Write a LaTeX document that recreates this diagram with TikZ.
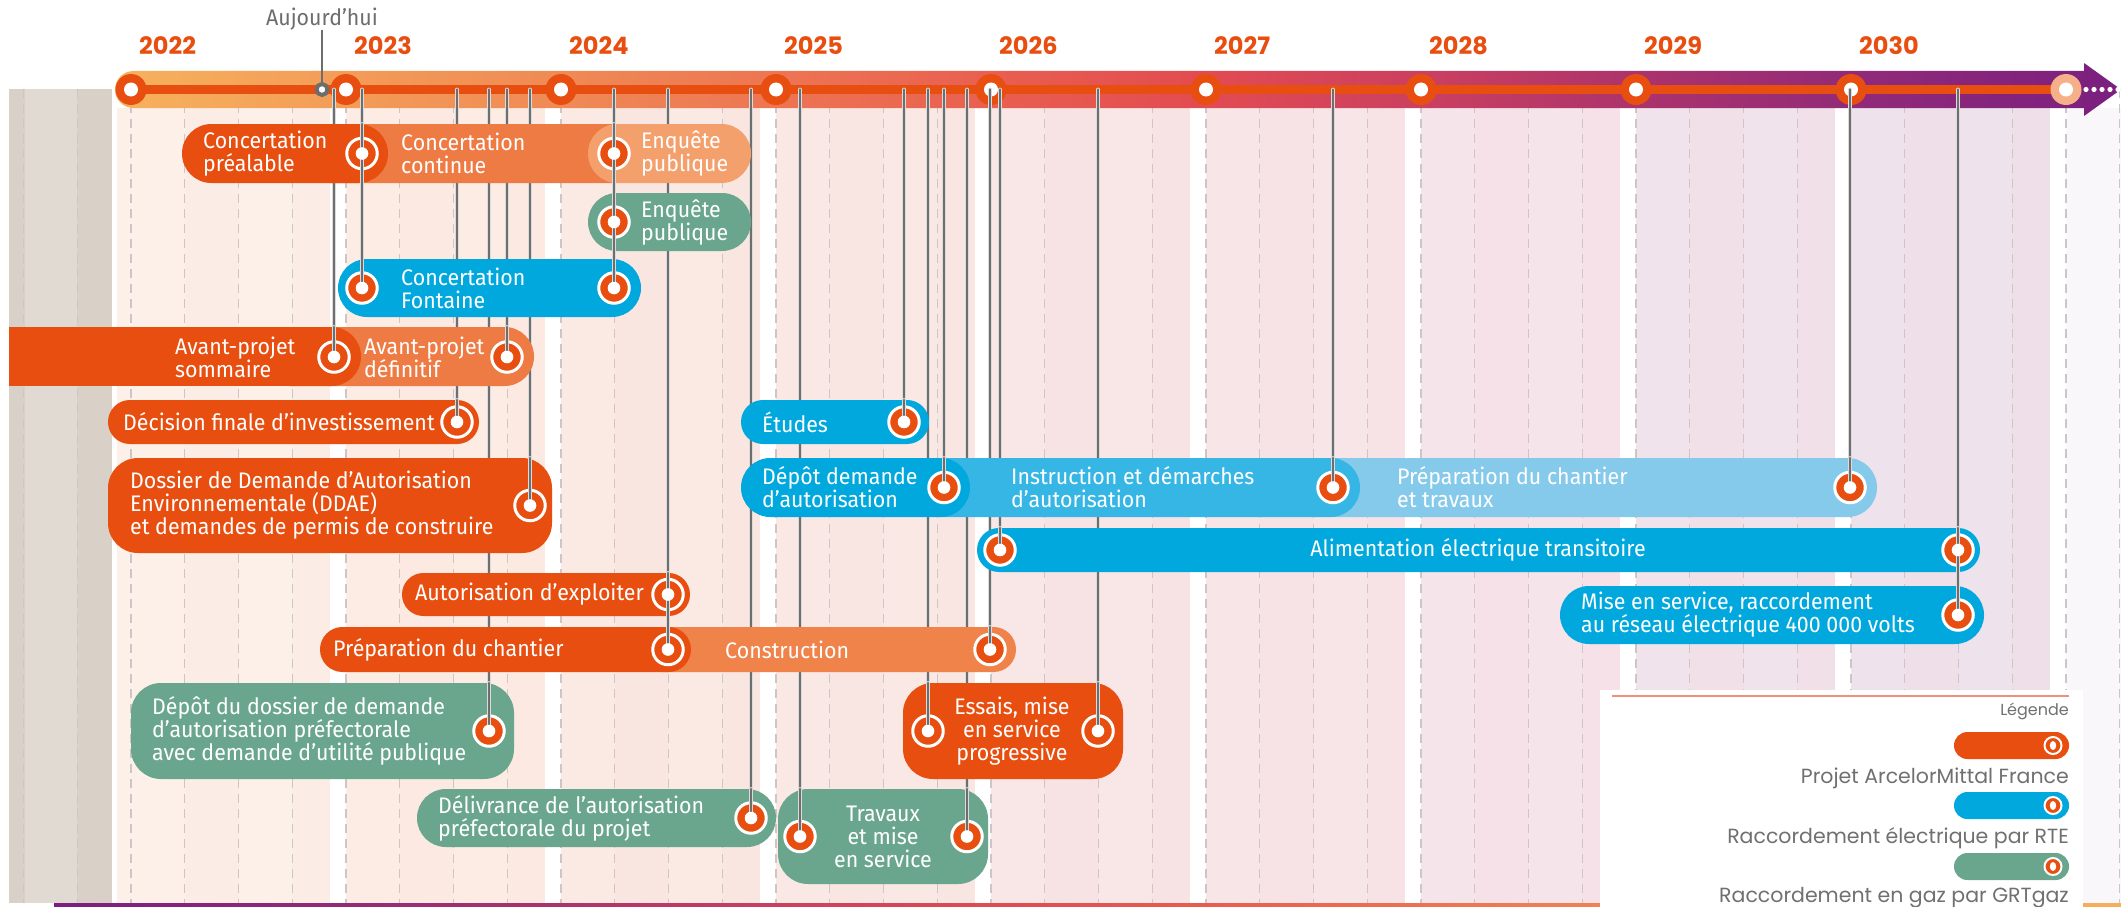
\documentclass[tikz,border=0pt]{standalone}
\usepackage{fontspec}
\setmainfont{Fira Sans}[FakeStretch=0.95]
\newfontfamily\legfont{Poppins}
\newfontfamily\yrfont{Poppins}
\usetikzlibrary{calc}

\definecolor{amo}{HTML}{E84E0F}
\definecolor{amomid}{HTML}{EE7A44}
\definecolor{amolight}{HTML}{F4A06C}
\definecolor{constr}{HTML}{F08349}
\definecolor{rte}{HTML}{00A8DE}
\definecolor{rtemid}{HTML}{36B6E4}
\definecolor{rtelight}{HTML}{86CAEB}
\definecolor{grt}{HTML}{6AA68E}
\definecolor{stemgrey}{HTML}{6E6E6E}
\definecolor{agrey}{HTML}{6D6D6D}
\definecolor{dashgrey}{HTML}{CCC6C6}
\definecolor{peach}{HTML}{F5B08A}
\definecolor{greyA}{HTML}{D9D1C8}
\definecolor{greyB}{HTML}{E1DAD3}
\definecolor{leggrey}{HTML}{707070}
\definecolor{legline}{HTML}{F0907A}
\definecolor{bandtint}{HTML}{E8A0A8}
\definecolor{colA}{HTML}{FCF0E8}
\definecolor{colB}{HTML}{FCECE4}
\definecolor{colC}{HTML}{FBE9E3}
\definecolor{colD}{HTML}{FAE8E5}
\definecolor{colE}{HTML}{F9E6E7}
\definecolor{colF}{HTML}{F8E5E8}
\definecolor{colG}{HTML}{F5E4E9}
\definecolor{colH}{HTML}{F1E3EB}
\definecolor{colI}{HTML}{EEE2EC}
\definecolor{colJ}{HTML}{F9F7FA}
\definecolor{b0}{HTML}{F6B05C}
\definecolor{b1}{HTML}{F39C58}
\definecolor{b2}{HTML}{EF8A55}
\definecolor{b3}{HTML}{ED7553}
\definecolor{b4}{HTML}{E95F50}
\definecolor{b5}{HTML}{E24B51}
\definecolor{b6}{HTML}{CB4060}
\definecolor{b7}{HTML}{AC336C}
\definecolor{b8}{HTML}{922A78}
\definecolor{b9}{HTML}{7A1F80}

\pgfdeclarehorizontalshading{barshade}{100bp}{color(0bp)=(b0); color(25bp)=(b0); color(30.35bp)=(b1); color(35.75bp)=(b2); color(41.16bp)=(b3); color(46.55bp)=(b4); color(51.98bp)=(b5); color(57.36bp)=(b6); color(62.77bp)=(b7); color(68.18bp)=(b8); color(75bp)=(b9); color(100bp)=(b9)}

\newcommand\lblfont{\fontsize{22.5pt}{23pt}\selectfont}
\newcommand\yrlabel{\yrfont\bfseries\fontsize{24pt}{24pt}\selectfont}
\newcommand\aujfont{\fontsize{22.5pt}{22.5pt}\selectfont}
\newcommand\legtext{\legfont\fontsize{20.5pt}{20.5pt}\selectfont}
\newcommand\legsmall{\legfont\fontsize{16pt}{16pt}\selectfont}

\begin{document}
\begin{tikzpicture}[x=1pt,y=-1pt,
  stem/.style={draw=white!75!stemgrey, line width=0.7pt, double=stemgrey, double distance=2.4pt, line cap=round},
  ms/.style={circle, fill=amo, draw=white, line width=3pt, minimum size=30.5pt, inner sep=0pt},
  legms/.style={circle, fill=amo, draw=white, line width=2pt, minimum size=17pt, inner sep=0pt},
  lbl/.style={text=white, font=\lblfont, align=left, inner sep=0pt, anchor=west},
  clbl/.style={text=white, font=\lblfont, align=center, inner sep=0pt, anchor=center},
  yr/.style={text=amo, font=\yrlabel, inner sep=0pt, anchor=west},
  leg/.style={text=leggrey, font=\legtext, inner sep=0pt, anchor=east},
  legpill/.style={rounded corners=13.4pt},
]
\useasboundingbox (0,0) rectangle (2121,907);
\clip (0,0) rectangle (2121,907);
\fill[white] (0,0) rectangle (2121,907);

% grey zone before 2022
\fill[greyA] (9,89) rectangle (112,903);
\fill[greyB] (25,89) rectangle (77,903);

% year columns
\foreach \i/\cc in {0/colA,1/colB,2/colC,3/colD,4/colE,5/colF,6/colG,7/colH,8/colI}{
  \fill[\cc] (117+215*\i,108) rectangle (331+215*\i,903);
  \fill[\cc!96!bandtint] (184.75+215*\i,108) rectangle (238.5+215*\i,903);
  \fill[\cc!96!bandtint] (292.25+215*\i,108) rectangle (331+215*\i,903);
}
\fill[colJ] (2066,108) rectangle (2121,903);
\foreach \i in {1,...,9} \fill[white] (115+215*\i,108) rectangle (131+215*\i,903);

% quarter dashed lines
\foreach \k in {-2,...,37}
  \draw[dashgrey, line width=1.4pt, dash pattern=on 9pt off 6pt] (131+53.75*\k,89) -- (131+53.75*\k,903);

% bottom gradient line
\shade[shading=barshade, shading angle=180] (54,903.5) rectangle (2121,906.5);

% time axis bar
\fill[b0] (133.5,89.5) circle[radius=18.5pt];
\shade[shading=barshade] (133.5,71) -- (2084,71) -- (2084,63) -- (2121,89.5) -- (2084,116) -- (2084,108) -- (133.5,108) -- cycle;
\draw[amo, line width=8pt] (131,89.5) -- (2066,89.5);
\foreach \i in {0,...,8}{
  \fill[amo] (131+215*\i,89.5) circle[radius=15.5pt];
  \fill[white] (131+215*\i,89.5) circle[radius=7pt];
  \node[yr] (Y\i) at (139+215*\i,46) {\number\numexpr2022+\i\relax};
}
\fill[peach] (2066,89.5) circle[radius=15.5pt];
\fill[white] (2066,89.5) circle[radius=7pt];
\foreach \d in {2086,2094,2102,2110,2118} \fill[white] (\d,89.5) circle[radius=2.6pt];

% today marker
\node[font=\aujfont, text=agrey, inner sep=0pt] (auj) at (322,19) {Aujourd'hui};
\node[circle, draw=agrey, line width=4pt, fill=white, minimum size=11pt, inner sep=0pt] (today) at (322,89.5) {};
\draw[agrey, line width=2.5pt] (auj.south) -- (today.north);

% milestone positions
\coordinate (M-pre) at (362,153.5);
\coordinate (M-enqO) at (614,153.5);
\coordinate (M-enqG) at (614,222);
\coordinate (M-fonL) at (362,288);
\coordinate (M-fonR) at (614,288);
\coordinate (M-aps) at (334,357);
\coordinate (M-apd) at (507,357);
\coordinate (M-dfi) at (457,422);
\coordinate (M-dda) at (530,505.5);
\coordinate (M-aut) at (668,594.5);
\coordinate (M-prep) at (668,649.5);
\coordinate (M-depd) at (489,731);
\coordinate (M-deli) at (751,818);
\coordinate (M-travL) at (800,836.5);
\coordinate (M-travR) at (967,836.5);
\coordinate (M-essL) at (928,731);
\coordinate (M-essR) at (1098,731);
\coordinate (M-etu) at (904,422);
\coordinate (M-depa) at (944,487.5);
\coordinate (M-inst) at (1333,487.5);
\coordinate (M-ptrav) at (1850,487.5);
\coordinate (M-aliL) at (1000,550);
\coordinate (M-aliR) at (1958,550);
\coordinate (M-mes) at (1958,615);
\coordinate (M-cons) at (990,649.5);

% stem origins on the axis
\foreach \n/\x in {pre/362,enq/614,aps/334,apd/507,dfi/457,dda/530,aut/668,depd/489,deli/751,travL/800,travR/967,essL/928,essR/1098,etu/904,depa/944,inst/1333,ptrav/1850,aliL/1000,cons/990,aliR/1958}
  \coordinate (T-\n) at (\x,89.5);

% stems (behind the bars)
\foreach \a/\b in {pre/fonL,enq/fonR,aps/aps,apd/apd,dfi/dfi,dda/dda,aut/prep,depd/depd,deli/deli,travL/travL,travR/travR,essL/essL,essR/essR,etu/etu,depa/depa,inst/inst,ptrav/ptrav,aliL/aliL,cons/cons,aliR/mes}
  \draw[stem] (T-\a) -- (M-\b);

% ---- bars ----
\fill[amomid, rounded corners=29.4pt] (300,124) rectangle (645,183);
\fill[amo, rounded corners=29.4pt] (182,124) rectangle (388,183);
\fill[amolight, rounded corners=29.4pt] (588,124) rectangle (751,183);
\fill[grt, rounded corners=28.9pt] (588,193) rectangle (751,251);
\fill[rte, rounded corners=28.9pt] (338,259) rectangle (641,317);
\fill[amomid, rounded corners=29.4pt] (300,327) rectangle (534,386);
\fill[amo] (9,327) rectangle (320,386);
\fill[amo, rounded corners=29.4pt] (260,327) rectangle (361,386);
\fill[amo, rounded corners=21.9pt] (108,400) rectangle (479,444);
\fill[amo, rounded corners=30pt] (108,458) rectangle (552,553);
\fill[rte, rounded corners=21.9pt] (741,400) rectangle (929,444);
\fill[rtelight, rounded corners=29.4pt] (1300,458) rectangle (1877,517);
\fill[rtemid, rounded corners=29.4pt] (910,458) rectangle (1360,517);
\fill[rte, rounded corners=29.4pt] (741,458) rectangle (970,517);
\fill[rte, rounded corners=21.9pt] (977,528) rectangle (1980,572);
\fill[amo, rounded corners=21.4pt] (402,573) rectangle (690,616);
\fill[rte, rounded corners=28.9pt] (1560,586) rectangle (1984,644);
\fill[constr, rounded corners=22.4pt] (640,627) rectangle (1016,672);
\fill[amo, rounded corners=22.4pt] (320,627) rectangle (691,672);
\fill[grt, rounded corners=30pt] (131,683) rectangle (514,779);
\fill[amo, rounded corners=30pt] (903,683) rectangle (1123,779);
\fill[grt, rounded corners=28.9pt] (417,789) rectangle (776,847);
\fill[grt, rounded corners=30pt] (778,789) rectangle (988,884);

% milestone markers
\foreach \n in {pre,enqO,enqG,fonL,fonR,aps,apd,dfi,dda,aut,prep,depd,deli,travL,travR,essL,essR,etu,depa,inst,ptrav,aliL,aliR,mes,cons}
  \node[ms] (C-\n) at (M-\n) {};

% visible stem ends over the bars
\coordinate (P-pre) at (362,124);
\coordinate (P-enq) at (614,124);
\coordinate (P-aps) at (334,327);
\coordinate (P-apd) at (507,327);
\coordinate (P-dfi) at (457,400);
\coordinate (P-dda) at (530,458);
\coordinate (P-aut) at (668,573);
\coordinate (P-depd) at (489,683);
\coordinate (P-deli) at (751,789);
\coordinate (P-travL) at (800,789);
\coordinate (P-travR) at (967,789);
\coordinate (P-essL) at (928,683);
\coordinate (P-essR) at (1098,683);
\coordinate (P-etu) at (904,400);
\coordinate (P-depa) at (944,458);
\coordinate (P-inst) at (1333,458);
\coordinate (P-ptrav) at (1850,458);
\coordinate (P-aliL) at (1000,528);
\coordinate (P-cons) at (990,627);
\coordinate (P-aliR) at (1958,528);
\foreach \a/\b in {pre/fonL,enq/fonR,aps/aps,apd/apd,dfi/dfi,dda/dda,aut/prep,depd/depd,deli/deli,travL/travL,travR/travR,essL/essL,essR/essR,etu/etu,depa/depa,inst/inst,ptrav/ptrav,aliL/aliL,cons/cons,aliR/mes}
  \draw[stem] (P-\a) -- (C-\b.center);

\foreach \n in {pre,enqO,enqG,fonL,fonR,aps,apd,dfi,dda,aut,prep,depd,deli,travL,travR,essL,essR,etu,depa,inst,ptrav,aliL,aliR,mes,cons}
  \fill[white] (C-\n.center) circle[radius=6.3pt];

% ---- labels ----
\node[lbl] (t-pre) at (203,153.5) {Concertation\\préalable};
\node[lbl] (t-con) at (401,153.5) {Concertation\\continue};
\node[lbl] (t-enqO) at (641,153.5) {Enquête\\publique};
\node[lbl] (t-enqG) at (641,222) {Enquête\\publique};
\node[lbl] (t-fon) at (401,288) {Concertation\\Fontaine};
\node[lbl] (t-aps) at (175,357) {Avant-projet\\sommaire};
\node[lbl] (t-apd) at (364,357) {Avant-projet\\définitif};
\node[lbl] (t-dfi) at (123,422) {Décision finale d’investissement};
\node[lbl] (t-dda) at (130,505.5) {Dossier de Demande d’Autorisation\\Environnementale (DDAE)\\et demandes de permis de construire};
\node[lbl] (t-aut) at (415,594.5) {Autorisation d'exploiter};
\node[lbl] (t-prep) at (333,649.5) {Préparation du chantier};
\node[lbl] (t-cons) at (725,649.5) {Construction};
\node[lbl] (t-depd) at (152,731) {Dépôt du dossier de demande\\d’autorisation préfectorale\\avec demande d’utilité publique};
\node[lbl] (t-deli) at (438,818) {Délivrance de l’autorisation\\préfectorale du projet};
\node[clbl] (t-trav) at (883,836.5) {Travaux\\et mise\\en service};
\node[clbl] (t-ess) at (1012,731) {Essais, mise\\en service\\progressive};
\node[lbl] (t-etu) at (762,422) {Études};
\node[lbl] (t-depa) at (762,487.5) {Dépôt demande\\d’autorisation};
\node[lbl] (t-inst) at (1011,487.5) {Instruction et démarches\\d’autorisation};
\node[lbl] (t-ptrav) at (1397,487.5) {Préparation du chantier\\et travaux};
\node[clbl] (t-ali) at (1478,550) {Alimentation électrique transitoire};
\node[lbl] (t-mes) at (1581,615) {Mise en service, raccordement\\au réseau électrique 400 000 volts};

% ---- legend ----
\fill[white] (1600,690) rectangle (2083,907);
\draw[legline, line width=2.5pt] (1612,696) -- (2069,696);
\node[leg, font=\legsmall] (legT) at (2069,711) {Légende};
\fill[amo, legpill] (1954,732) rectangle (2069,759);
\node[legms] (L1) at (2053,745.5) {};
\fill[white] (L1.center) ellipse[x radius=3.2pt, y radius=4.5pt];
\node[leg] (legA) at (2069,778) {Projet ArcelorMittal France};
\fill[rte, legpill] (1954,792) rectangle (2069,819);
\node[legms] (L2) at (2053,805.5) {};
\fill[white] (L2.center) ellipse[x radius=3.2pt, y radius=4.5pt];
\node[leg] (legB) at (2069,838) {Raccordement électrique par RTE};
\fill[grt, legpill] (1954,853) rectangle (2069,880);
\node[legms] (L3) at (2053,866.5) {};
\fill[white] (L3.center) ellipse[x radius=3.2pt, y radius=4.5pt];
\node[leg] (legC) at (2069,898) {Raccordement en gaz par GRTgaz};
\end{tikzpicture}
\end{document}
